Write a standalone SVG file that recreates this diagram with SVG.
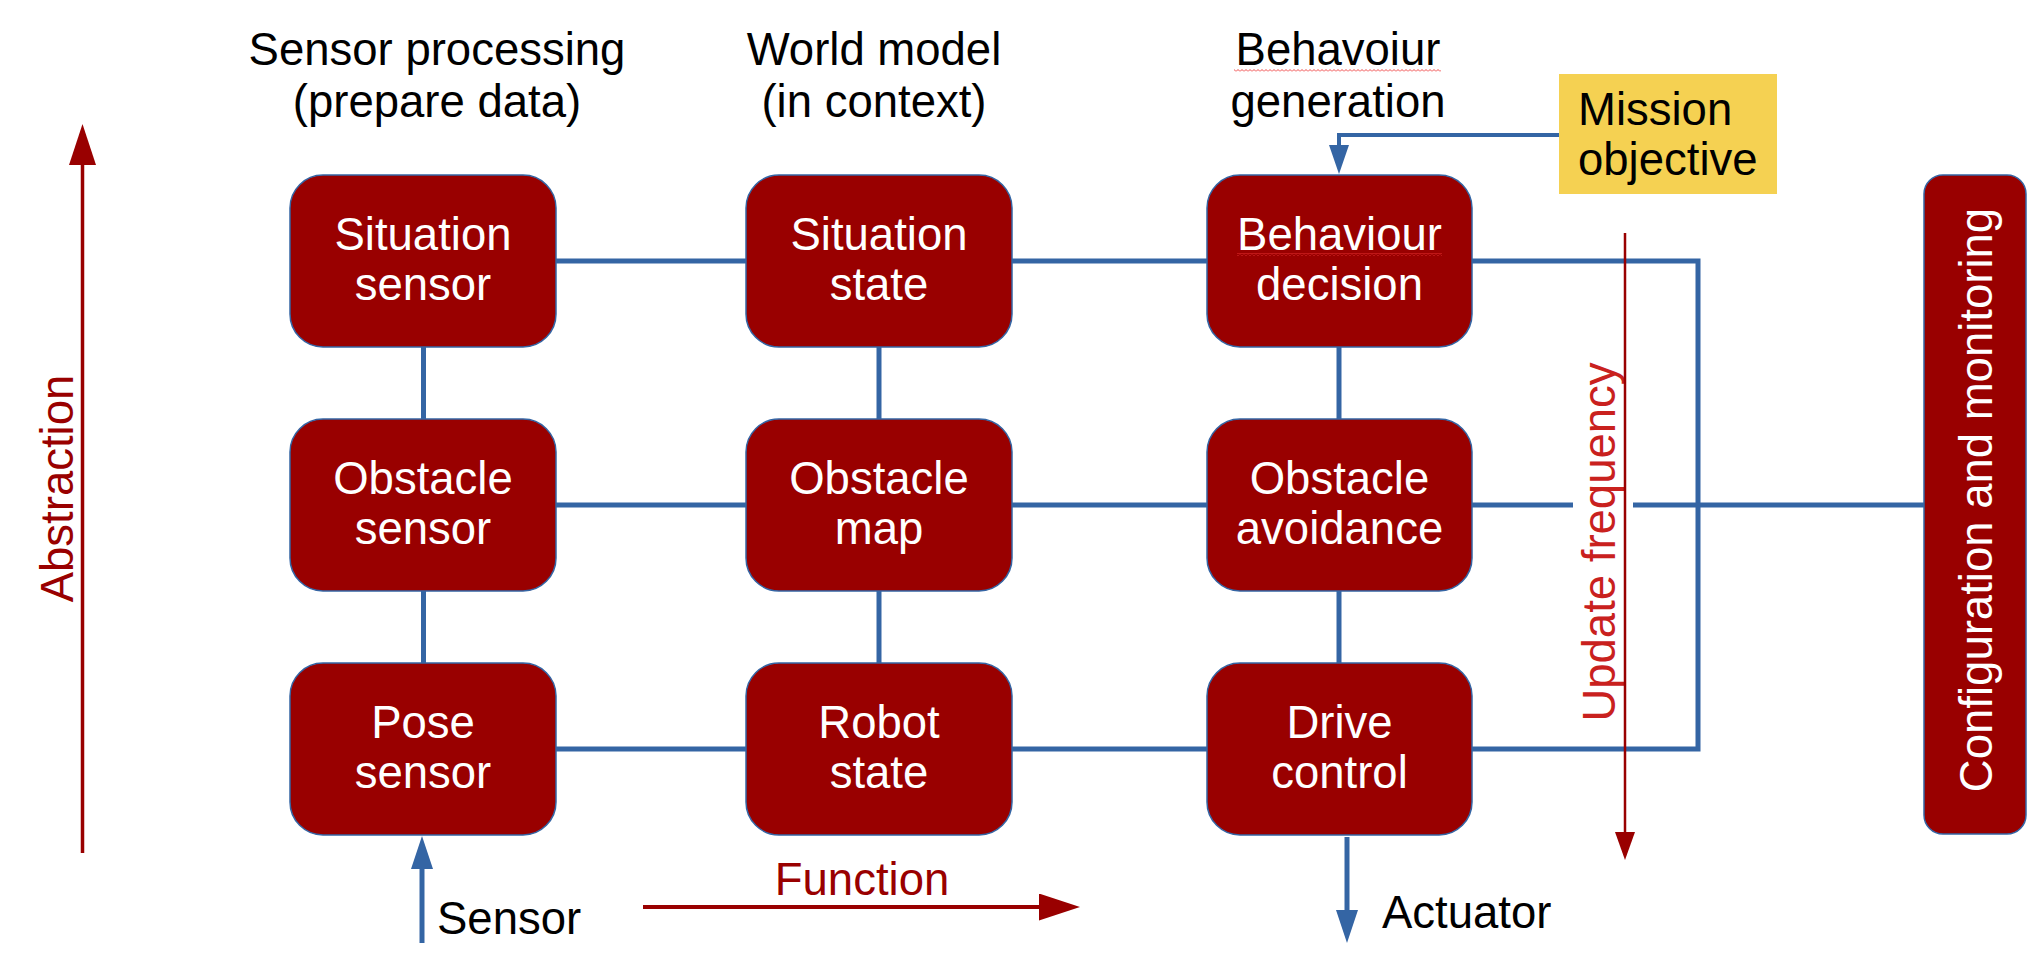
<svg xmlns="http://www.w3.org/2000/svg" width="2042" height="956" viewBox="0 0 2042 956">
<style>
  text { font-family: "Liberation Sans", Arial, sans-serif; font-size: 45.5px; }
  .hdr { fill: #000000; text-anchor: middle; }
  .lbl { fill: #ffffff; text-anchor: middle; }
  .box { fill: #990000; stroke: #3465a4; stroke-width: 1.5; }
  .conn { stroke: #3465a4; stroke-width: 5; fill: none; stroke-linejoin: miter; }
  .red { stroke: #990000; fill: none; }
  .redtxt { fill: #990000; }
</style>
<defs>
  <marker id="blueHead" markerUnits="userSpaceOnUse" markerWidth="33" markerHeight="22" viewBox="0 0 33 22" refX="0" refY="11" orient="auto">
    <path d="M0,0 L33,11 L0,22 Z" fill="#3465a4"/>
  </marker>
  <marker id="blueHeadSmall" markerUnits="userSpaceOnUse" markerWidth="29" markerHeight="20" viewBox="0 0 29 20" refX="0" refY="10" orient="auto">
    <path d="M0,0 L29,10 L0,20 Z" fill="#3465a4"/>
  </marker>
  <marker id="redHead" markerUnits="userSpaceOnUse" markerWidth="41" markerHeight="27" viewBox="0 0 41 27" refX="0" refY="13.5" orient="auto">
    <path d="M0,0 L41,13.5 L0,27 Z" fill="#990000"/>
  </marker>
  <marker id="redHeadSmall" markerUnits="userSpaceOnUse" markerWidth="28" markerHeight="20" viewBox="0 0 28 20" refX="0" refY="10" orient="auto">
    <path d="M0,0 L28,10 L0,20 Z" fill="#990000"/>
  </marker>
  <pattern id="squiggle" patternUnits="userSpaceOnUse" width="4" height="3">
    <path d="M0,2.5 L2,0.5 L4,2.5" stroke="#ee3333" stroke-width="0.9" fill="none"/>
  </pattern>
</defs>

<rect x="0" y="0" width="2042" height="956" fill="#ffffff"/>

<!-- headers -->
<g id="headers">
  <text class="hdr" x="437" y="65">Sensor processing</text>
  <text class="hdr" x="437" y="117">(prepare data)</text>
  <text class="hdr" x="874" y="65">World model</text>
  <text class="hdr" x="874" y="117">(in context)</text>
  <text class="hdr" x="1338" y="65">Behavoiur</text>
  <rect x="1234" y="69" width="207" height="3" fill="url(#squiggle)"/>
  <text class="hdr" x="1338" y="117">generation</text>
</g>

<!-- connectors -->
<g id="connectors">
  <line class="conn" x1="556" y1="261" x2="746" y2="261"/>
  <line class="conn" x1="1012" y1="261" x2="1207" y2="261"/>
  <line class="conn" x1="556" y1="505" x2="746" y2="505"/>
  <line class="conn" x1="1012" y1="505" x2="1207" y2="505"/>
  <line class="conn" x1="556" y1="749" x2="746" y2="749"/>
  <line class="conn" x1="1012" y1="749" x2="1207" y2="749"/>
  <polyline class="conn" points="1472,261 1698,261 1698,749 1472,749"/>
  <line class="conn" x1="1472" y1="505" x2="1573" y2="505"/>
  <line class="conn" x1="1633" y1="505" x2="1924" y2="505"/>
  <line class="conn" x1="423.5" y1="347" x2="423.5" y2="419"/>
  <line class="conn" x1="423.5" y1="591" x2="423.5" y2="663"/>
  <line class="conn" x1="879" y1="347" x2="879" y2="419"/>
  <line class="conn" x1="879" y1="591" x2="879" y2="663"/>
  <line class="conn" x1="1339" y1="347" x2="1339" y2="419"/>
  <line class="conn" x1="1339" y1="591" x2="1339" y2="663"/>
  <line class="conn" x1="422" y1="943" x2="422" y2="869" marker-end="url(#blueHead)"/>
  <line class="conn" x1="1347" y1="837" x2="1347" y2="910" marker-end="url(#blueHead)"/>
  <polyline class="conn" style="stroke-width:4" points="1559,135 1339,135 1339,145" marker-end="url(#blueHeadSmall)"/>
</g>

<!-- nodes -->
<g id="situation-sensor">
  <rect class="box" x="290" y="175" width="266" height="172" rx="33"/>
  <text class="lbl" x="423" y="250">Situation</text>
  <text class="lbl" x="423" y="300">sensor</text>
</g>
<g id="situation-state">
  <rect class="box" x="746" y="175" width="266" height="172" rx="33"/>
  <text class="lbl" x="879" y="250">Situation</text>
  <text class="lbl" x="879" y="300">state</text>
</g>
<g id="behaviour-decision">
  <rect class="box" x="1207" y="175" width="265" height="172" rx="33"/>
  <text class="lbl" x="1339.5" y="250">Behaviour</text>
  <rect x="1237" y="253" width="205" height="3" fill="url(#squiggle)"/>
  <text class="lbl" x="1339.5" y="300">decision</text>
</g>
<g id="obstacle-sensor">
  <rect class="box" x="290" y="419" width="266" height="172" rx="33"/>
  <text class="lbl" x="423" y="494">Obstacle</text>
  <text class="lbl" x="423" y="544">sensor</text>
</g>
<g id="obstacle-map">
  <rect class="box" x="746" y="419" width="266" height="172" rx="33"/>
  <text class="lbl" x="879" y="494">Obstacle</text>
  <text class="lbl" x="879" y="544">map</text>
</g>
<g id="obstacle-avoidance">
  <rect class="box" x="1207" y="419" width="265" height="172" rx="33"/>
  <text class="lbl" x="1339.5" y="494">Obstacle</text>
  <text class="lbl" x="1339.5" y="544">avoidance</text>
</g>
<g id="pose-sensor">
  <rect class="box" x="290" y="663" width="266" height="172" rx="33"/>
  <text class="lbl" x="423" y="738">Pose</text>
  <text class="lbl" x="423" y="788">sensor</text>
</g>
<g id="robot-state">
  <rect class="box" x="746" y="663" width="266" height="172" rx="33"/>
  <text class="lbl" x="879" y="738">Robot</text>
  <text class="lbl" x="879" y="788">state</text>
</g>
<g id="drive-control">
  <rect class="box" x="1207" y="663" width="265" height="172" rx="33"/>
  <text class="lbl" x="1339.5" y="738">Drive</text>
  <text class="lbl" x="1339.5" y="788">control</text>
</g>
<g id="configuration-monitoring">
  <rect class="box" x="1924" y="175" width="102" height="659" rx="19"/>
  <text class="lbl" transform="translate(1991.5,500) rotate(-90)">Configuration and monitoring</text>
</g>
<g id="mission-objective">
  <rect x="1559" y="74" width="218" height="120" fill="#f5d152"/>
  <text x="1578" y="125" fill="#000000">Mission</text>
  <text x="1578" y="175" fill="#000000">objective</text>
</g>

<!-- io labels -->
<g id="io-labels">
  <text x="437" y="934" fill="#000000">Sensor</text>
  <text x="1382" y="928" fill="#000000">Actuator</text>
</g>

<!-- axes -->
<g id="abstraction-axis">
  <line class="red" style="stroke-width:3.5" x1="82.5" y1="853" x2="82.5" y2="165" marker-end="url(#redHead)"/>
  <text class="redtxt" text-anchor="middle" transform="translate(73,488.5) rotate(-90)">Abstraction</text>
</g>
<g id="function-axis">
  <line class="red" style="stroke-width:4" x1="643" y1="907" x2="1039" y2="907" marker-end="url(#redHead)"/>
  <text class="redtxt" x="862" y="895" text-anchor="middle">Function</text>
</g>
<g id="update-frequency-axis">
  <text fill="#c9211e" text-anchor="middle" transform="translate(1615,542) rotate(-90)">Update frequency</text>
  <line class="red" style="stroke-width:2.5" x1="1625" y1="233" x2="1625" y2="832" marker-end="url(#redHeadSmall)"/>
</g>
</svg>
